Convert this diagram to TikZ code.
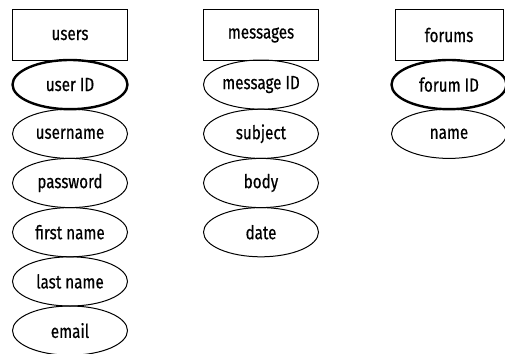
\documentclass[tikz,border=0pt]{standalone}
\usepackage{fontspec}
\setmainfont{Fira Sans}[FakeStretch=0.8,FakeBold=0.5]
\usepackage{tikz}
\usetikzlibrary{shapes,positioning}

\begin{document}
\begin{tikzpicture}[x=1pt,y=-1pt,node distance=0pt,
    every node/.style={font=\fontsize{19}{22}\selectfont,outer sep=0pt,inner sep=0pt},
    entity/.style={draw,line width=1pt,minimum width=115pt,minimum height=50pt},
    attr/.style={draw,ellipse,line width=1pt,minimum width=115pt,minimum height=49.2pt},
    keyattr/.style={attr,line width=2.4pt}]
    \useasboundingbox (0,0) rectangle (505,353);
    % users
    \node[entity] (users) at (70,35) {users};
    \node[keyattr,below=of users] (userid) {user ID};
    \node[attr,below=of userid] (username) {username};
    \node[attr,below=of username] (password) {password};
    \node[attr,below=of password] (firstname) {first name};
    \node[attr,below=of firstname] (lastname) {last name};
    \node[attr,below=of lastname] (email) {email};
    % messages
    \node[entity] (messages) at (261,35) {messages};
    \node[attr,below=of messages] (messageid) {message ID};
    \node[attr,below=of messageid] (subject) {subject};
    \node[attr,below=of subject] (body) {body};
    \node[attr,below=of body] (date) {date};
    % forums
    \node[entity,minimum width=108pt] (forums) at (449,35) {forums};
    \node[keyattr,below=of forums] (forumid) {forum ID};
    \node[attr,below=of forumid] (forumname) {name};
  \end{tikzpicture}
\end{document}
